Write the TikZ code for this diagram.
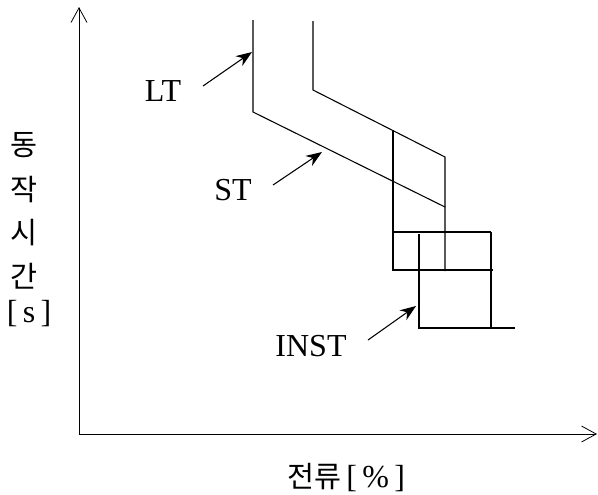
\documentclass[tikz,border=0pt]{standalone}
\usepackage{fontspec}
\setmainfont{Liberation Serif}
\newfontfamily\kor{Noto Sans CJK KR}
\usetikzlibrary{arrows.meta}
\begin{document}
\begin{tikzpicture}[x=0.75pt,y=-0.75pt,
  curve/.style={line width=0.8pt},
  axis/.style={line width=0.6pt,-{Straight Barb[length=11pt,width=12pt,line width=0.6pt]}},
  pointer/.style={line width=0.8pt,-{Stealth[length=12pt,width=9pt]}},
  lbl/.style={font=\fontsize{24}{28}\selectfont,inner sep=0pt},
  klbl/.style={font=\kor\fontsize{22}{26}\selectfont,inner sep=0pt}]
\useasboundingbox (0,0) rectangle (598,494);
% axes
\coordinate (O) at (79,434);
\coordinate (ytip) at (79,7);
\coordinate (xtip) at (597,434);
\draw[axis] (O) -- (ytip);
\draw[axis] (O) -- (xtip);
% LT/ST curve
\draw[curve] (253,20) -- (253,112) -- (445,207) -- (445,271);
\draw[curve] (313,21) -- (313,90) -- (445,157) -- (445,207);
\draw[curve] (393,130) -- (393,271);
% INST boxes
\draw[curve] (393,232) -- (491,232);
\draw[curve] (393,270) -- (493,270);
\draw[curve] (419,234) -- (419,328) -- (515,328);
\draw[curve] (491,232) -- (491,328);
% labels
\node[lbl] (LT) at (163,91) {LT};
\node[lbl] (ST) at (233,190) {ST};
\node[lbl] (INST) at (311,346) {INST};
\coordinate (LTs) at (203,86);
\coordinate (STs) at (273,185);
\coordinate (INSTs) at (368,340);
\coordinate (LTt) at (252,52);
\coordinate (STt) at (322,152);
\coordinate (INSTt) at (416,306);
\draw[pointer] (LTs) -- (LTt);
\draw[pointer] (STs) -- (STt);
\draw[pointer] (INSTs) -- (INSTt);
% axis titles
\node[klbl] (y1) at (24,145) {동};
\node[klbl] (y2) at (24,190) {작};
\node[klbl] (y3) at (24,233) {시};
\node[klbl] (y4) at (24,276) {간};
\node[lbl] (y5) at (29,314) {[\,s\,]};
\node[inner sep=0pt] (xlab) at (346,478) {{\kor\fontsize{22}{26}\selectfont 전류}{\fontsize{24}{28}\selectfont\,[\,\%\,]}};
\end{tikzpicture}
\end{document}
